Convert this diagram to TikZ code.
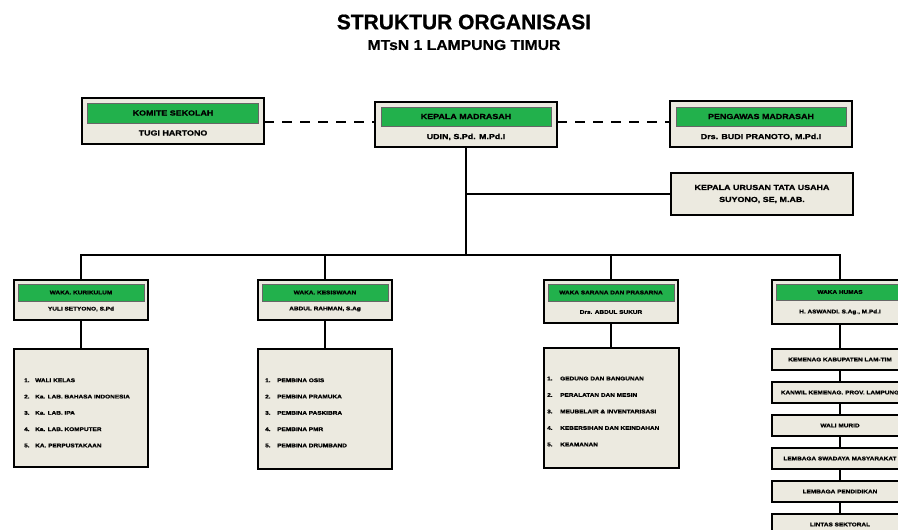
\documentclass[tikz,border=0pt]{standalone}
\usepackage{fontspec}
\setmainfont{Liberation Sans}
\newfontfamily\hf[FakeStretch=1.22,FakeBold=1.2]{Liberation Sans}
\newfontfamily\tf[FakeStretch=1.1,FakeBold=0.6]{Liberation Sans}
\newfontfamily\ttlf[FakeBold=0.8]{Liberation Sans}
\definecolor{grn}{HTML}{22B14C}
\definecolor{bg}{HTML}{ECEAE0}
\begin{document}
\begin{tikzpicture}[x=1pt,y=-1pt,
  box/.style={draw, line width=2pt, fill=bg, inner sep=0pt, outer sep=0pt},
  bar/.style={fill=grn, draw=black!60, line width=0.5pt, inner sep=0pt},
  big/.style={font=\hf\bfseries\fontsize{7.3}{12}\selectfont, inner sep=0pt},
  sm/.style={font=\hf\bfseries\fontsize{5.3}{6.4}\selectfont, inner sep=0pt},
  ln/.style={line width=2pt},
  dsh/.style={line width=2.5pt, dash pattern=on 10pt off 8pt}]
\clip (0,0) rectangle (898,530);
\fill[white] (0,0) rectangle (898,530);
% title
\node[font=\ttlf\bfseries\fontsize{21}{25}\selectfont, inner sep=0pt] (title) at (464,22) {STRUKTUR ORGANISASI};
\node[font=\tf\bfseries\fontsize{14.3}{17}\selectfont, inner sep=0pt] (subtitle) at (464,45) {MTsN 1 LAMPUNG TIMUR};
% top row
\node[box, minimum width=182pt, minimum height=46pt] (kom) at (173,121) {};
\node[bar, big, minimum width=171pt, minimum height=20pt] (komt) at (173,113) {KOMITE SEKOLAH};
\node[big] (komn) at (173,133) {TUGI HARTONO};
\node[box, minimum width=182pt, minimum height=45pt] (kep) at (466,124.5) {};
\node[bar, big, minimum width=170pt, minimum height=19pt] (kept) at (466,116.5) {KEPALA MADRASAH};
\node[big] (kepn) at (466,137) {UDIN, S.Pd. M.Pd.I};
\node[box, minimum width=182pt, minimum height=46pt] (pen) at (761,124) {};
\node[bar, big, minimum width=170pt, minimum height=19pt] (pent) at (761,116.5) {PENGAWAS MADRASAH};
\node[big] (penn) at (761,137) {Drs. BUDI PRANOTO, M.Pd.I};
\node[box, big, align=center, minimum width=182pt, minimum height=42pt] (tu) at (762,194) {KEPALA URUSAN TATA USAHA\\SUYONO, SE, M.AB.};
\draw[dsh] (kom.east |- 0,122) -- (kep.west |- 0,122);
\draw[dsh] (kep.east |- 0,122) -- (pen.west |- 0,122);
% column headers
\node[box, minimum width=134pt, minimum height=40pt] (k1) at (81,300) {};
\node[bar, sm, minimum width=126pt, minimum height=17pt] (k1t) at (81,292.5) {WAKA. KURIKULUM};
\node[sm] (k1n) at (81,309) {YULI SETYONO, S.Pd};
\node[box, minimum width=134pt, minimum height=40pt] (k2) at (325,300) {};
\node[bar, sm, minimum width=126pt, minimum height=17pt] (k2t) at (325,292.5) {WAKA. KESISWAAN};
\node[sm] (k2n) at (325,309) {ABDUL RAHMAN, S.Ag};
\node[box, minimum width=134pt, minimum height=43pt] (k3) at (611,301.5) {};
\node[bar, sm, minimum width=126pt, minimum height=17pt] (k3t) at (611,292.5) {WAKA SARANA DAN PRASARNA};
\node[sm] (k3n) at (611,312) {Drs. ABDUL SUKUR};
\node[box, minimum width=136pt, minimum height=44pt] (k4) at (840,302) {};
\node[bar, sm, minimum width=128pt, minimum height=16pt] (k4t) at (840,292) {WAKA HUMAS};
\node[sm] (k4n) at (840,312) {H. ASWANDI. S.Ag., M.Pd.I};
% connectors from head
\coordinate (bj) at (kep.south |- 0,255);
\draw[ln] (kep.south) -- (bj);
\draw[ln] (kep.south |- tu.west) -- (tu.west);
\draw[ln] (k1.north) -- (k1.north |- bj) -- (k4.north |- bj) -- (k4.north);
\draw[ln] (k2.north) -- (k2.north |- bj);
\draw[ln] (k3.north) -- (k3.north |- bj);
% lists
\node[box, minimum width=134pt, minimum height=118pt] (l1) at (81,408) {};
\node[box, minimum width=134pt, minimum height=120pt] (l2) at (325,409) {};
\node[box, minimum width=135pt, minimum height=120pt] (l3) at (611,408) {};
\draw[ln] (k1.south) -- (l1.north);
\draw[ln] (k2.south) -- (l2.north);
\draw[ln] (k3.south) -- (l3.north);
\foreach \t [count=\i] in {WALI KELAS, Ka. LAB. BAHASA INDONESIA, Ka. LAB. IPA, Ka. LAB. KOMPUTER, KA. PERPUSTAKAAN}{
  \node[sm, anchor=west] (a\i n) at (24,{364+16.3*\i}) {\i.};
  \node[sm, anchor=west] (a\i) at (35,{364+16.3*\i}) {\t};
}
\foreach \t [count=\i] in {PEMBINA OSIS, PEMBINA PRAMUKA, PEMBINA PASKIBRA, PEMBINA PMR, PEMBINA DRUMBAND}{
  \node[sm, anchor=west] (b\i n) at (265,{364+16.3*\i}) {\i.};
  \node[sm, anchor=west] (b\i) at (277,{364+16.3*\i}) {\t};
}
\foreach \t [count=\i] in {GEDUNG DAN BANGUNAN, PERALATAN DAN MESIN, MEUBELAIR \& INVENTARISASI, KEBERSIHAN DAN KEINDAHAN, KEAMANAN}{
  \node[sm, anchor=west] (c\i n) at (547,{362+16.5*\i}) {\i.};
  \node[sm, anchor=west] (c\i) at (560,{362+16.5*\i}) {\t};
}
% humas chain
\foreach \t [count=\i] in {KEMENAG KABUPATEN LAM-TIM, KANWIL KEMENAG. PROV. LAMPUNG, WALI MURID, LEMBAGA SWADAYA MASYARAKAT, LEMBAGA PENDIDIKAN, LINTAS SEKTORAL}{
  \node[box, sm, minimum width=136pt, minimum height=21pt] (h\i) at (840,{326.5+33*\i}) {\t};
}
\draw[ln] (k4.south) -- (h1.north);
\foreach \i [evaluate=\i as \j using int(\i+1)] in {1,...,5}{
  \draw[ln] (h\i.south) -- (h\j.north);
}
\end{tikzpicture}
\end{document}
